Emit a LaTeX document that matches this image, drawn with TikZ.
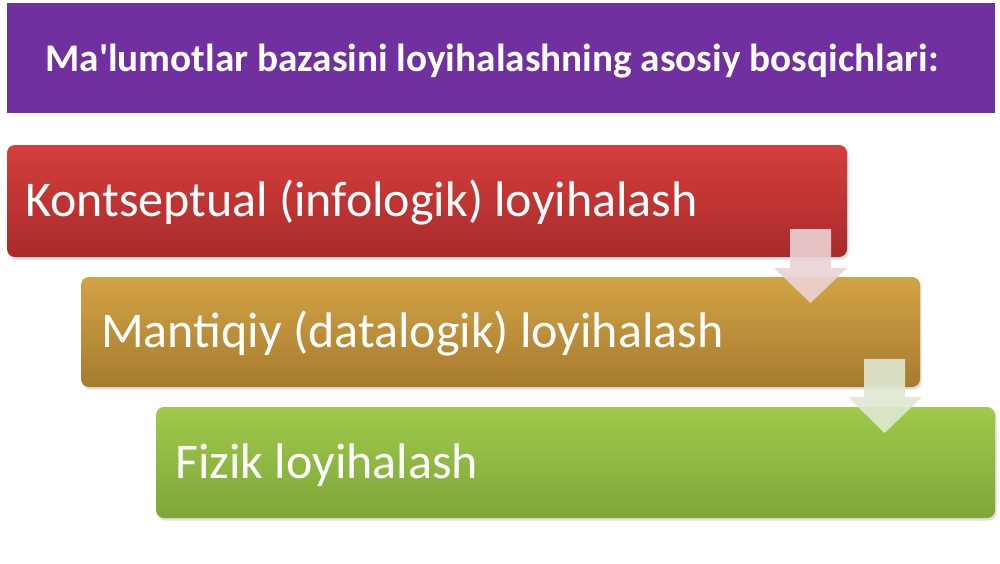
\documentclass[tikz,border=0pt]{standalone}
\usepackage{fontspec}
\setmainfont{Carlito}
\usetikzlibrary{shadows}
\definecolor{hdr}{HTML}{7030A0}
\definecolor{redT}{HTML}{D53F3C}
\definecolor{redB}{HTML}{A82A2A}
\definecolor{golT}{HTML}{D2A345}
\definecolor{golB}{HTML}{A77B2F}
\definecolor{grnT}{HTML}{A0CA4A}
\definecolor{grnB}{HTML}{7DA63A}
\definecolor{arr1}{HTML}{EBD3D4}
\definecolor{arr2}{HTML}{DFE8D2}
\tikzset{
  stagebox/.style={rounded corners=8pt, drop shadow={opacity=0.25, shadow xshift=1.5pt, shadow yshift=-2.5pt}},
  stagetext/.style={text=white, anchor=base west, inner sep=0pt, font=\fontsize{50}{60}\selectfont},
  blockarrow/.style={draw=none, opacity=0.9}
}
\begin{document}
\begin{tikzpicture}[x=1pt,y=-1pt]
\useasboundingbox (0,0) rectangle (1000,563);
\fill[white] (0,0) rectangle (1000,563);
% header
\fill[hdr] (7,3) rectangle (995,113);
\node[text=white, font=\bfseries\fontsize{39.2}{45}\selectfont, anchor=base, inner sep=0pt] (title) at (492,71) {Ma\textquotesingle lumotlar bazasini loyihalashning asosiy bosqichlari:};
% boxes
\shade[stagebox, top color=redT, bottom color=redB] (7,145) rectangle (847,257);
\shade[stagebox, top color=golT, bottom color=golB] (81,277) rectangle (920,387);
\shade[stagebox, top color=grnT, bottom color=grnB] (156,407) rectangle (995,518);
\node[stagetext] (t1) at (25,216) {Kontseptual (infologik) loyihalash};
\node[stagetext] (t2) at (101,347) {Mantiqiy (datalogik) loyihalash};
\node[stagetext] (t3) at (175,478) {Fizik loyihalash};
% arrows
\fill[blockarrow, arr1] (790,229) -- (831,229) -- (831,268) -- (847,268) -- (810.5,303) -- (774,268) -- (790,268) -- cycle;
\fill[blockarrow, arr2] (864,359) -- (905,359) -- (905,397) -- (922,397) -- (884.5,433) -- (848,397) -- (864,397) -- cycle;
\end{tikzpicture}
\end{document}
